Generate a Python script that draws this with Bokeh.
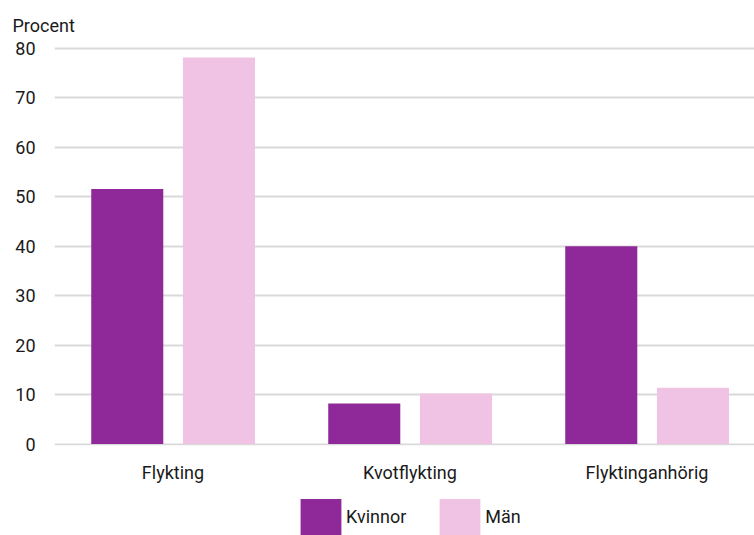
from bokeh.plotting import figure
from bokeh.layouts import column
from bokeh.models import (Range1d, FixedTicker, Legend, LegendItem, ColumnDataSource)
from bokeh.transform import dodge
from bokeh.embed import file_html
from bokeh.resources import INLINE

categories = ["Flykting", "Kvotflykting", "Flyktinganhörig"]
kvinnor = [51.6, 8.2, 40.0]
man = [78.2, 10.2, 11.4]
series_names = ["Kvinnor", "Män"]
y_ticks = [0, 10, 20, 30, 40, 50, 60, 70, 80]

FONT = "Roboto"
FS = "18px"
TXT = "#1a1a1a"
C_K = "#8f2898"
C_M = "#f0c3e4"

xpos = [i + 0.5 for i in range(len(categories))]
src = ColumnDataSource(dict(x=xpos, k=kvinnor, m=man))

p = figure(width=754, height=491, output_backend="svg", toolbar_location=None,
           x_range=Range1d(0, 700 / 237), y_range=Range1d(-0.3, 80.4),
           min_border_left=54, min_border_right=0, min_border_top=46, min_border_bottom=46)
p.outline_line_color = None

rk = p.vbar(x=dodge("x", -0.193, range=p.x_range), top="k", width=0.304, source=src,
            fill_color=C_K, line_color=None)
rm = p.vbar(x=dodge("x", 0.194, range=p.x_range), top="m", width=0.304, source=src,
            fill_color=C_M, line_color=None)

# axes
p.xaxis.ticker = FixedTicker(ticks=xpos)
p.xaxis.major_label_overrides = {x: c for x, c in zip(xpos, categories)}
p.yaxis.ticker = FixedTicker(ticks=y_ticks)
for ax in (p.xaxis[0], p.yaxis[0]):
    ax.axis_line_color = None
    ax.major_tick_line_color = None
    ax.minor_tick_line_color = None
    ax.major_label_text_font = FONT
    ax.major_label_text_font_size = FS
    ax.major_label_text_color = TXT
p.yaxis.major_label_standoff = 13
p.xaxis.major_label_standoff = 10

p.xgrid.grid_line_color = None
p.ygrid.grid_line_color = "#d9d9d9"
p.ygrid.grid_line_width = 2

# title
p.title.text = "Procent"
p.title.text_font = FONT
p.title.text_font_size = FS
p.title.text_font_style = "normal"
p.title.text_color = TXT
p.title.align = "left"
p.title.offset = -42
p.title.standoff = 21

# legend in its own strip below the chart (zero-width bars only carry the styles)
leg = figure(width=754, height=44, output_backend="svg", toolbar_location=None,
             x_range=Range1d(0, 1), y_range=Range1d(0, 1),
             x_axis_location=None, y_axis_location=None,
             min_border_left=0, min_border_right=0, min_border_top=0, min_border_bottom=0)
leg.outline_line_color = None
leg.grid.grid_line_color = None
lk = leg.vbar(x="x", top="k", width=0, source=src, fill_color=C_K, line_color=None)
lm = leg.vbar(x="x", top="m", width=0, source=src, fill_color=C_M, line_color=None)
legend = Legend(items=[LegendItem(label=series_names[0], renderers=[lk]),
                       LegendItem(label=series_names[1], renderers=[lm])],
                orientation="horizontal", location=(241, -4),
                glyph_width=51, glyph_height=45, label_standoff=-3, spacing=28,
                label_text_font=FONT, label_text_font_size=FS, label_text_color=TXT,
                border_line_color=None, background_fill_alpha=0,
                padding=0, margin=0)
leg.add_layout(legend)

layout = column(p, leg, spacing=0)
open("out.html", "w").write(file_html(layout, INLINE))
